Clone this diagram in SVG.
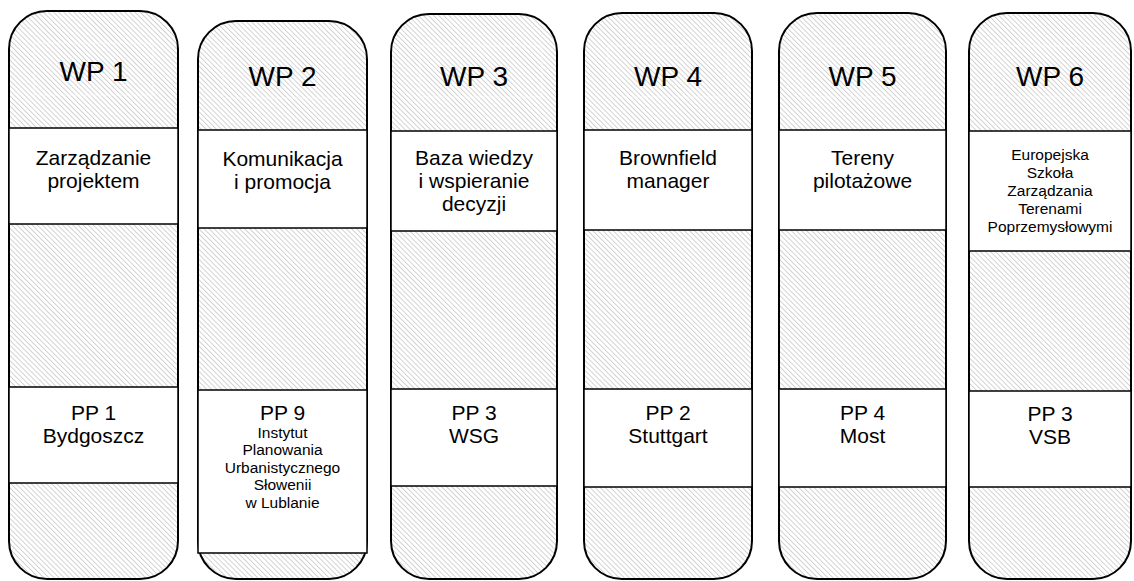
<svg xmlns="http://www.w3.org/2000/svg" width="1134" height="581" viewBox="0 0 1134 581">
<defs>
<pattern id="hatch" width="3.6" height="3.6" patternUnits="userSpaceOnUse" patternTransform="rotate(-45)">
<rect width="3.6" height="3.6" fill="#ffffff"/>
<line x1="0" y1="0" x2="0" y2="3.6" stroke="#bcbcbc" stroke-width="1.3"/>
</pattern>
</defs>
<style>
.col{fill:url(#hatch);stroke:#000;stroke-width:2}
.box{fill:#fff;stroke:#000;stroke-width:1.5}
.frame{fill:none;stroke:#fff;stroke-width:1;opacity:0.6}
text{font-family:"Liberation Sans",Arial,sans-serif;fill:#000;text-anchor:middle}
.wp{font-size:28px}
.t{font-size:21px}
.s{font-size:15.5px}
</style>
<rect width="1134" height="581" fill="#fff"/>
<g id="wp1">
<rect class="col" x="9" y="11" width="169" height="568" rx="38" ry="38"/>
<rect class="frame" x="34" y="43" width="119" height="52"/>
<text class="wp" x="93.5" y="81">WP 1</text>
<rect class="box" x="9" y="128" width="169" height="96"/>
<text class="t" x="93.5" y="165">Zarządzanie</text>
<text class="t" x="93.5" y="188">projektem</text>
<rect class="box" x="9" y="387" width="169" height="96"/>
<text class="t" x="93.5" y="420">PP 1</text>
<text class="t" x="93.5" y="443">Bydgoszcz</text>
</g>
<g id="wp2">
<rect class="col" x="198" y="21" width="169" height="558" rx="38" ry="38"/>
<rect class="frame" x="223" y="46" width="119" height="52"/>
<text class="wp" x="282.5" y="86">WP 2</text>
<rect class="box" x="198" y="130" width="169" height="98"/>
<text class="t" x="282.5" y="166">Komunikacja</text>
<text class="t" x="282.5" y="189">i promocja</text>
<rect class="box" x="198" y="390" width="169" height="163"/>
<text class="t" x="282.5" y="420">PP 9</text>
<text class="s" x="282.5" y="437.5">Instytut</text>
<text class="s" x="282.5" y="455">Planowania</text>
<text class="s" x="282.5" y="472.5">Urbanistycznego</text>
<text class="s" x="282.5" y="490">Słowenii</text>
<text class="s" x="282.5" y="507.5">w Lublanie</text>
</g>
<g id="wp3">
<rect class="col" x="391" y="14" width="166" height="565" rx="38" ry="38"/>
<rect class="frame" x="420" y="46" width="122" height="51"/>
<text class="wp" x="474" y="86">WP 3</text>
<rect class="box" x="391" y="131" width="166" height="100"/>
<text class="t" x="474" y="165">Baza wiedzy</text>
<text class="t" x="474" y="188">i wspieranie</text>
<text class="t" x="474" y="211">decyzji</text>
<rect class="box" x="391" y="389" width="166" height="97"/>
<text class="t" x="474" y="420">PP 3</text>
<text class="t" x="474" y="443">WSG</text>
</g>
<g id="wp4">
<rect class="col" x="584" y="13" width="168" height="566" rx="38" ry="38"/>
<rect class="frame" x="608" y="46" width="120" height="51"/>
<text class="wp" x="668" y="86">WP 4</text>
<rect class="box" x="584" y="130" width="168" height="100"/>
<text class="t" x="668" y="165">Brownfield</text>
<text class="t" x="668" y="188">manager</text>
<rect class="box" x="584" y="389" width="168" height="98"/>
<text class="t" x="668" y="420">PP 2</text>
<text class="t" x="668" y="443">Stuttgart</text>
</g>
<g id="wp5">
<rect class="col" x="779" y="13" width="167" height="566" rx="38" ry="38"/>
<rect class="frame" x="802" y="46" width="120" height="51"/>
<text class="wp" x="862.5" y="86">WP 5</text>
<rect class="box" x="779" y="130" width="167" height="100"/>
<text class="t" x="862.5" y="165">Tereny</text>
<text class="t" x="862.5" y="188">pilotażowe</text>
<rect class="box" x="779" y="389" width="167" height="98"/>
<text class="t" x="862.5" y="420">PP 4</text>
<text class="t" x="862.5" y="443">Most</text>
</g>
<g id="wp6">
<rect class="col" x="969" y="13" width="162" height="566" rx="38" ry="38"/>
<rect class="frame" x="993" y="46" width="120" height="51"/>
<text class="wp" x="1050" y="86">WP 6</text>
<rect class="box" x="969" y="131" width="162" height="120"/>
<text class="s" x="1050" y="160">Europejska</text>
<text class="s" x="1050" y="178">Szkoła</text>
<text class="s" x="1050" y="196">Zarządzania</text>
<text class="s" x="1050" y="214">Terenami</text>
<text class="s" x="1050" y="232">Poprzemysłowymi</text>
<rect class="box" x="969" y="391" width="162" height="96"/>
<text class="t" x="1050" y="421">PP 3</text>
<text class="t" x="1050" y="444">VSB</text>
</g>
<g id="connectors"></g>
</svg>
